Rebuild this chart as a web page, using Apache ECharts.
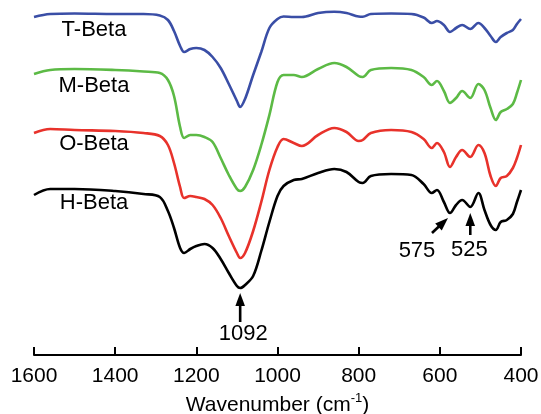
<!DOCTYPE html>
<html>
<head>
<meta charset="utf-8">
<script src="https://cdn.jsdelivr.net/npm/echarts@6/dist/echarts.min.js"></script>
<style>
  html, body { margin: 0; padding: 0; background: #fff; }
  #chart { width: 541px; height: 414px; }
</style>
</head>
<body>
<div id="chart"></div>
<script>
// FT-IR spectra of the four Beta zeolite samples, stacked with vertical offsets (a.u.)
const wavenumbers = [1600, 1560, 1500, 1400, 1330, 1290, 1270, 1255, 1240, 1230,
  1215, 1200, 1180, 1160, 1140, 1120, 1100, 1092, 1080, 1060,
  1040, 1020, 1000, 985, 960, 940, 900, 860, 830, 800,
  790, 770, 720, 670, 640, 620, 607, 590, 575, 560,
  545, 525, 505, 490, 475, 462, 450, 435, 420, 410, 400];

const tBeta = [338, 341, 341.5, 341, 341, 339.5, 335, 324, 309, 303,
  306, 307, 305, 298, 287, 271, 254, 248, 256, 280,
  303, 327, 336, 338.5, 338, 338, 342, 343.3, 342, 338.5,
  338.3, 341, 341.5, 341, 337.5, 332, 334, 330, 323, 327,
  330, 326, 332, 327, 319, 313, 318, 322, 325, 331, 336];

const mBeta = [281, 285, 286, 285, 283.5, 282, 275, 259, 228, 217,
  220, 220, 218, 213, 197, 180, 166, 164, 168, 185,
  210, 240, 273, 280, 280, 278, 286, 292, 288, 279,
  278, 285, 287, 285, 278, 270, 274, 264, 252, 257,
  264, 257, 271, 265, 247, 235, 243, 246, 251, 262, 275];

const oBeta = [222, 226, 225, 224, 222, 219, 210, 192, 168, 157,
  159, 158, 156, 150, 137, 119, 102, 97, 102, 124,
  153, 185, 208, 216, 212, 209, 220, 227, 223, 214,
  215, 222, 225, 223, 216, 207, 212, 203, 188, 198,
  205, 198, 210, 202, 179, 169, 177, 179, 187, 197, 210];

const hBeta = [160, 166, 166, 164, 161, 158, 144, 127, 107, 102,
  106, 109, 111, 107, 96, 82, 69, 67, 70, 79,
  104, 133, 159, 169, 175, 176, 182, 186, 183, 173,
  172, 179, 181, 180, 171, 162, 165, 153, 142, 150,
  155, 148, 162, 145, 130, 125, 133, 135, 141, 153, 165];

const sampleNames = ['T-Beta', 'M-Beta', 'O-Beta', 'H-Beta'];
const xTickValues = [1600, 1400, 1200, 1000, 800, 600, 400];
const peakLabels = [1092, 575, 525];

const FONT = '"Liberation Sans", Arial, Helvetica, sans-serif';
const colors = ['#3a4ea6', '#5cba45', '#e8322b', '#000000'];
const spectra = [tBeta, mBeta, oBeta, hBeta];

const chart = echarts.init(document.getElementById('chart'), null, { renderer: 'canvas' });

chart.setOption({
  animation: false,
  backgroundColor: '#ffffff',
  grid: { left: 34, right: 20, top: 0, bottom: 59, containLabel: false, outerBoundsMode: 'none' },
  xAxis: {
    type: 'value',
    inverse: true,
    min: 400,
    max: 1600,
    interval: 200,
    axisLine: { onZero: false, lineStyle: { color: '#000', width: 2 } },
    axisTick: { inside: true, length: 8, lineStyle: { color: '#000', width: 2 } },
    splitLine: { show: false },
    axisLabel: {
      color: '#000', fontSize: 21, fontFamily: FONT, margin: 11,
      formatter: v => (xTickValues.includes(v) ? String(v) : '')
    },
    name: '{a|Wavenumber (cm}{s|-1}{a|)}',
    nameLocation: 'middle',
    nameGap: 33,
    nameTextStyle: {
      rich: {
        a: { fontSize: 21, fontFamily: FONT, color: '#000', lineHeight: 26 },
        s: { fontSize: 13, fontFamily: FONT, color: '#000', lineHeight: 26, verticalAlign: 'top' }
      }
    }
  },
  yAxis: { type: 'value', min: 0, max: 355, show: false },
  series: spectra.map((vals, i) => ({
    name: sampleNames[i],
    type: 'line',
    data: wavenumbers.map((w, k) => [w, vals[k]]),
    showSymbol: false,
    smooth: 0.35,
    lineStyle: { color: colors[i], width: 2.6 },
    z: 10 - i
  }))
});

// sample names drawn beside the flat left end of each spectrum
const labelPos = [[94, 30], [94, 86], [94, 144], [94, 203]];
const graphics = sampleNames.map((name, i) => ({
  type: 'text',
  x: labelPos[i][0],
  y: labelPos[i][1],
  style: {
    text: name, fill: '#000', font: '22px ' + FONT,
    textAlign: 'center', textVerticalAlign: 'middle'
  },
  z: 100
}));

// arrows pointing at the marked H-Beta bands
const arrowGeom = {
  1092: { tip: [0, 5], tail: [0, 34], text: [3, 46] },
  575: { tip: [-2, 5], tail: [-18, 20], text: [-33, 38] },
  525: { tip: [0, 6], tail: [0, 28], text: [-1, 43] }
};

peakLabels.forEach(w => {
  const k = wavenumbers.indexOf(w);
  const p = chart.convertToPixel({ gridIndex: 0 }, [w, hBeta[k]]);
  const g = arrowGeom[w];
  const tip = [p[0] + g.tip[0], p[1] + g.tip[1]];
  const tail = [p[0] + g.tail[0], p[1] + g.tail[1]];
  const dx = tip[0] - tail[0], dy = tip[1] - tail[1];
  const len = Math.hypot(dx, dy);
  const ux = dx / len, uy = dy / len;
  const headLen = 13, headHalf = 4.8;
  const base = [tip[0] - ux * headLen, tip[1] - uy * headLen];
  graphics.push({
    type: 'line',
    shape: { x1: tail[0], y1: tail[1], x2: base[0] + ux * 2, y2: base[1] + uy * 2 },
    style: { stroke: '#000', lineWidth: 2.6 },
    z: 100
  });
  graphics.push({
    type: 'polygon',
    shape: {
      points: [
        tip,
        [base[0] - uy * headHalf, base[1] + ux * headHalf],
        [base[0] + uy * headHalf, base[1] - ux * headHalf]
      ]
    },
    style: { fill: '#000' },
    z: 100
  });
  graphics.push({
    type: 'text',
    x: p[0] + g.text[0],
    y: p[1] + g.text[1],
    style: {
      text: String(w), fill: '#000', font: '22px ' + FONT,
      textAlign: 'center', textVerticalAlign: 'middle'
    },
    z: 100
  });
});

chart.setOption({ graphic: graphics });
</script>
</body>
</html>
